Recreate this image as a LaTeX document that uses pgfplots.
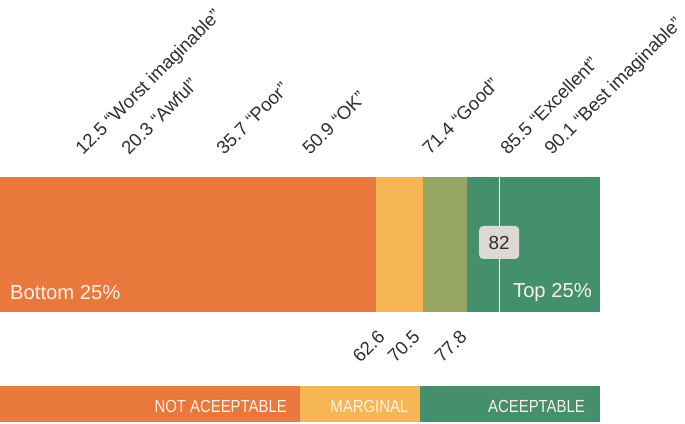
\documentclass[border=0pt]{standalone}
\usepackage{pgfplots}
\pgfplotsset{compat=1.18}
\usepackage{fontspec}
\setmainfont{Liberation Sans}

\definecolor{cOrange}{HTML}{E9783D}
\definecolor{cYellow}{HTML}{F7B654}
\definecolor{cOlive}{HTML}{97A563}
\definecolor{cGreen}{HTML}{448F6C}
\definecolor{cText}{HTML}{2E2E2E}
\definecolor{cLight}{HTML}{FAF1E8}
\definecolor{cBox}{HTML}{DDD7D6}

\newcommand{\lbl}{\fontsize{18.6}{21}\selectfont}
\newcommand{\inbar}{\fontsize{20.3}{22}\selectfont}
\newcommand{\cond}[1]{\scalebox{0.85}[1]{\fontsize{17.6}{19}\selectfont #1}}

\begin{document}
\begin{tikzpicture}
\path[use as bounding box] (0,0) rectangle (685bp,424bp);
\begin{axis}[
    at={(0,0)}, anchor=south west,
    scale only axis,
    width=600bp, height=424bp,
    xmin=0, xmax=100,
    ymin=0, ymax=424,
    hide axis,
    clip=false
]

% top bar: SUS score ranges
\addplot[fill=cOrange, draw=none] coordinates {(0,112) (62.6,112) (62.6,247) (0,247)} -- cycle;
\addplot[fill=cYellow, draw=none] coordinates {(62.6,112) (70.5,112) (70.5,247) (62.6,247)} -- cycle;
\addplot[fill=cOlive, draw=none] coordinates {(70.5,112) (77.8,112) (77.8,247) (70.5,247)} -- cycle;
\addplot[fill=cGreen, draw=none] coordinates {(77.8,112) (100,112) (100,247) (77.8,247)} -- cycle;

% score marker
\addplot[white, line width=1.2pt] coordinates {(83.2,112) (83.2,247)};
\node[fill=cBox, rounded corners=4bp, minimum width=40bp, minimum height=33bp,
      inner sep=0pt, text=cText, font=\fontsize{19}{21}\selectfont]
      at (axis cs:83.2,181.5) {82};

% bottom bar: acceptability
\addplot[fill=cOrange, draw=none] coordinates {(0,2) (50,2) (50,38) (0,38)} -- cycle;
\addplot[fill=cYellow, draw=none] coordinates {(50,2) (70,2) (70,38) (50,38)} -- cycle;
\addplot[fill=cGreen, draw=none] coordinates {(70,2) (100,2) (100,38) (70,38)} -- cycle;

% labels inside bars
\node[anchor=base west, text=cLight, font=\inbar, inner sep=0pt] at (axis cs:1.67,124) {Bottom 25\%};
\node[anchor=base east, text=cLight, font=\inbar, inner sep=0pt] at (axis cs:98.67,126) {Top 25\%};
\node[anchor=base east, text=cLight, inner sep=0pt] at (axis cs:47.83,12) {\cond{NOT ACEEPTABLE}};
\node[anchor=base east, text=cLight, inner sep=0pt] at (axis cs:68.08,12) {\cond{MARGINAL}};
\node[anchor=base east, text=cLight, inner sep=0pt] at (axis cs:97.5,12) {\cond{ACEEPTABLE}};

% adjective ratings above
\begin{scope}[every node/.style={anchor=base west, rotate=45, text=cText, font=\lbl, inner sep=0pt}]
\node at (axis cs:13.83,268) {12.5 “Worst imaginable”};
\node at (axis cs:21.5,268) {20.3 “Awful”};
\node at (axis cs:37.33,268) {35.7 “Poor”};
\node at (axis cs:51.67,268) {50.9 “OK”};
\node at (axis cs:71.67,268) {71.4 “Good”};
\node at (axis cs:84.67,268) {85.5 “Excellent”};
\node at (axis cs:92.0,268) {90.1 “Best imaginable”};
\end{scope}

% range boundaries below
\begin{scope}[every node/.style={anchor=base east, rotate=45, text=cText, font=\lbl, inner sep=0pt}]
\node at (axis cs:64.33,86) {62.6};
\node at (axis cs:70.17,86) {70.5};
\node at (axis cs:78.0,86) {77.8};
\end{scope}
\end{axis}
\end{tikzpicture}
\end{document}
